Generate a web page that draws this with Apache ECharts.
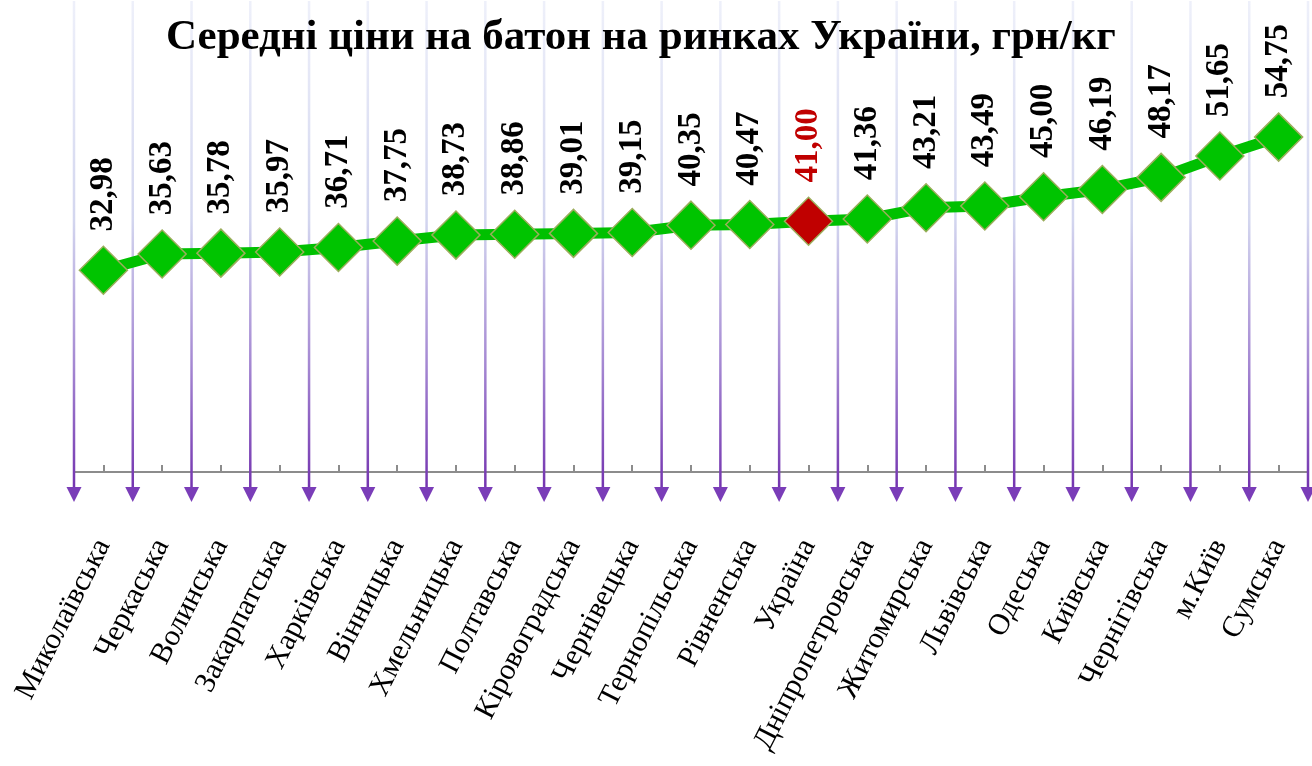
<!DOCTYPE html>
<html>
<head>
<meta charset="utf-8">
<script src="https://cdn.jsdelivr.net/npm/echarts@6/dist/echarts.min.js"></script>
<style>
    html, body {margin: 0; padding: 0; background: #fff;}
    #chart {width: 1312px; height: 766px;}
</style>
</head>
<body>
<div id="chart"></div>
<script>
const titleText = 'Середні ціни на батон на ринках України, грн/кг';

const regions = [
    'Миколаївська', 'Черкаська', 'Волинська', 'Закарпатська', 'Харківська',
    'Вінницька', 'Хмельницька', 'Полтавська', 'Кіровоградська', 'Чернівецька',
    'Тернопільська', 'Рівненська', 'Україна', 'Дніпропетровська', 'Житомирська',
    'Львівська', 'Одеська', 'Київська', 'Чернігівська', 'м.Київ', 'Сумська'
];

const prices = [
    32.98, 35.63, 35.78, 35.97, 36.71, 37.75, 38.73, 38.86, 39.01, 39.15,
    40.35, 40.47, 41.00, 41.36, 43.21, 43.49, 45.00, 46.19, 48.17, 51.65, 54.75
];

const highlight = 'Україна';

const chart = echarts.init(document.getElementById('chart'));

const serif = 'Liberation Serif, Times New Roman, serif';

const lineData = prices.map(function (v, i) {
    if (regions[i] === highlight) {
        return {
            value: v,
            itemStyle: {color: '#c00000'},
            label: {color: '#c00000'}
        };
    }
    return v;
});

// purple gridlines with arrows at category boundaries
function renderGrid(params, api) {
    const idx = api.value(0);
    const c = api.coord([idx, 0]);
    const band = api.size([1, 0])[0];
    const top = api.coord([idx, 77])[1];
    const base = c[1];
    const xs = [c[0] - band / 2];
    if (idx === regions.length - 1) xs.push(c[0] + band / 2);
    const grad = new echarts.graphic.LinearGradient(0, top, 0, base + 15, [
        {offset: 0, color: '#eef0fa'},
        {offset: 0.45, color: '#d3d6ef'},
        {offset: 0.75, color: '#a487d2'},
        {offset: 1, color: '#7434b0'}
    ], true);
    const children = [];
    xs.forEach(function (x) {
        children.push({
            type: 'line',
            shape: {x1: x, y1: top, x2: x, y2: base + 16},
            style: {stroke: grad, lineWidth: 2.5}
        });
        children.push({
            type: 'polygon',
            shape: {points: [[x - 7.5, base + 15], [x + 7.5, base + 15], [x, base + 30]]},
            style: {fill: '#7a3db8'}
        });
    });
    return {type: 'group', children: children};
}

const option = {
    backgroundColor: '#fff',
    animation: false,
    title: {
        text: titleText,
        left: 161,
        top: 11,
        textStyle: {
            fontFamily: serif,
            fontWeight: 'bold',
            fontSize: 43,
            color: '#000'
        }
    },
    grid: {
        left: 74,
        right: 4,
        top: 1,
        bottom: 294
    },
    xAxis: {
        type: 'category',
        data: regions,
        boundaryGap: true,
        axisLine: {lineStyle: {color: '#8c8c8c', width: 2}},
        axisTick: {
            show: true,
            inside: true,
            alignWithLabel: true,
            length: 7,
            lineStyle: {color: '#8c8c8c', width: 2}
        },
        axisLabel: {
            interval: 0,
            rotate: 63,
            margin: 69,
            fontFamily: serif,
            fontSize: 30,
            color: '#000'
        },
        splitLine: {show: false}
    },
    yAxis: {
        type: 'value',
        min: 0,
        max: 77,
        show: false
    },
    series: [
        {
            type: 'custom',
            renderItem: renderGrid,
            data: regions.map(function (r, i) { return [i]; }),
            clip: false,
            silent: true,
            z: 1
        },
        {
            type: 'line',
            data: lineData,
            z: 3,
            lineStyle: {color: '#00c000', width: 11},
            symbol: 'diamond',
            symbolSize: 48,
            itemStyle: {
                color: '#00c400',
                borderColor: '#9cae5c',
                borderWidth: 1.5
            },
            label: {
                show: true,
                position: 'top',
                distance: 14,
                rotate: 90,
                align: 'left',
                verticalAlign: 'middle',
                fontFamily: serif,
                fontWeight: 'bold',
                fontSize: 33,
                color: '#000',
                formatter: function (p) {
                    return Number(p.value).toFixed(2).replace('.', ',');
                }
            }
        }
    ]
};

chart.setOption(option);
</script>
</body>
</html>
